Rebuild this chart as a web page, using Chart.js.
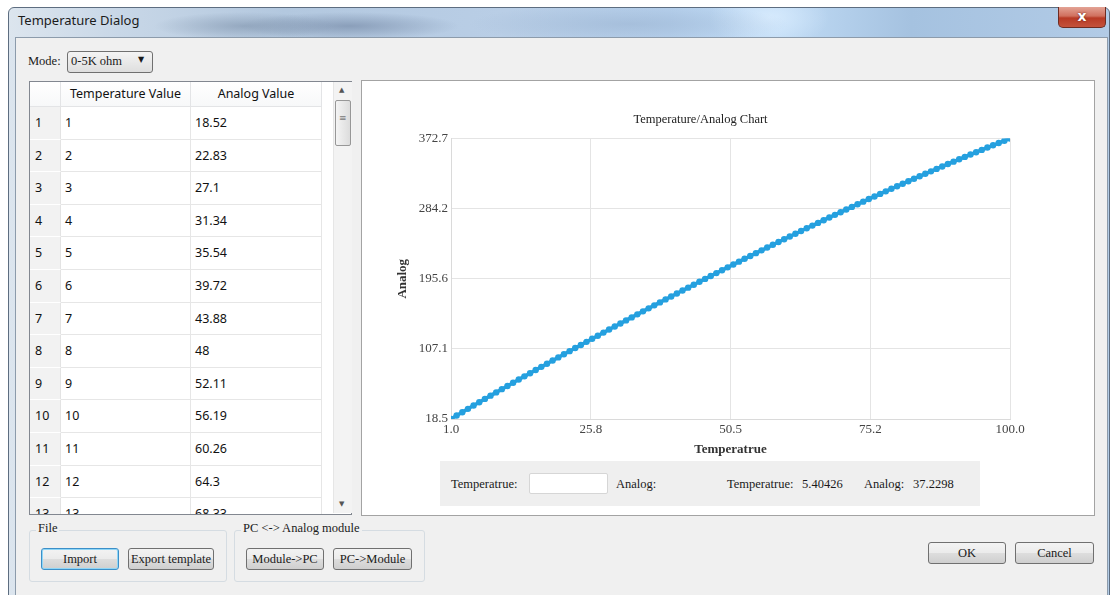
<!DOCTYPE html>
<html>
<head>
<meta charset="utf-8">
<title>Temperature Dialog</title>
<script src="https://cdn.jsdelivr.net/npm/chart.js@4.4.1/dist/chart.umd.min.js"></script>
<style>
html, body { margin: 0; padding: 0; width: 1110px; height: 595px; overflow: hidden; background: #fff; }
body { position: relative; font-family: "Liberation Serif", serif; font-size: 12.5px; color: #1a1a1a; }
.abs { position: absolute; }
#glass {
  left: 8px; top: 7px; width: 1100px; height: 590px; border: 1px solid #5d6d80; border-radius: 6px 6px 0 0;
  background:
    radial-gradient(ellipse 90px 14px at 235px 18px, rgba(120,140,165,0.55), rgba(120,140,165,0) 100%),
    radial-gradient(ellipse 110px 14px at 340px 18px, rgba(110,130,160,0.6), rgba(110,130,160,0) 100%),
    radial-gradient(ellipse 160px 20px at 620px 16px, rgba(150,175,205,0.5), rgba(150,175,205,0) 100%),
    radial-gradient(ellipse 60px 30px at 760px 10px, rgba(220,238,255,0.8), rgba(220,238,255,0) 100%),
    linear-gradient(90deg, #dce5ee 0%, #c8d7e7 10%, #b3c8df 25%, #b9cee6 45%, #b6d0ec 60%, #c0dbf5 70%, #a5c2e0 82%, #b2cbe6 100%);
}
#title { left: 18px; top: 11px; font-family: "Noto Sans", sans-serif; font-size: 13px; color: #1b1b1b; }
#close {
  left: 1058px; top: 7px; width: 46px; height: 20px; border: 1px solid #6e2c22; border-top: none; border-radius: 0 0 5px 5px;
  background: linear-gradient(#e3a395 0%, #d0705e 45%, #b83a25 55%, #c4523c 100%);
  color: #fff; font-family: "DejaVu Sans", sans-serif; font-weight: bold; font-size: 14px; text-align: center; line-height: 19px;
  text-shadow: 0 0 2px #5a1a10;
}
#client { left: 15px; top: 37px; width: 1091px; height: 560px; background: #f0f0f0; border: 1px solid #8c9bab; }
.lbl { white-space: nowrap; }
#combo {
  left: 67px; top: 51px; width: 84px; height: 20px; border: 1px solid #707070; border-radius: 3px;
  background: linear-gradient(#f4f4f4, #dedede);
}
#table { left: 29px; top: 81px; width: 321px; height: 432px; border: 1px solid #828790; background: #fff; overflow: hidden; }
.cell { position: absolute; font-family: "Noto Sans", sans-serif; font-size: 12.5px; color: #111; white-space: nowrap; box-sizing: border-box; }
.hdr { background: linear-gradient(#ffffff, #f7f8f9); border-right: 1px solid #e3e4e6; border-bottom: 1px solid #e3e4e6; text-align: center; line-height: 24px; height: 25px; }
.rh { background: #f2f2f2; border-bottom: 1px solid #ffffff; border-right: 1px solid #e3e3e3; padding-left: 5px; }
.dc { border-right: 1px solid #e6e6e6; border-bottom: 1px solid #e6e6e6; padding-left: 4px; }
#scroll { left: 333px; top: 82px; width: 18px; height: 431px; background: #f3f3f3; border-left: 1px solid #e6e6e6; }
#thumb { left: 335px; top: 100px; width: 14px; height: 44px; border: 1px solid #979797; border-radius: 2px; background: linear-gradient(90deg, #f4f4f4, #dcdcdc); }
#chartBox { left: 361px; top: 80px; width: 732px; height: 434px; border: 1px solid #a3a3a3; background: #fff; }
#chart { left: 362px; top: 81px; }
#info { left: 440px; top: 461px; width: 540px; height: 45px; background: #efefef; }
#input { left: 529px; top: 473px; width: 77px; height: 19px; background: #fff; border: 1px solid #d6d6d6; border-radius: 2px; }
.group { border: 1px solid #d5dce2; border-radius: 3px; }
.gtitle { background: #f0f0f0; padding: 0 2px; }
.btn {
  position: absolute; box-sizing: border-box; border: 1px solid #707070; border-radius: 3px;
  background: linear-gradient(#f3f3f3 0%, #ebebeb 50%, #dddddd 51%, #cfcfcf 100%);
  text-align: center; line-height: 20px; white-space: nowrap; font-size: 12.5px; color: #1a1a1a;
}
.btn.focus { border: 1px solid #3c8fc8; box-shadow: inset 0 0 0 1px #8fd6f7; }
</style>
</head>
<body>
<div id="glass" class="abs"></div>
<div id="title" class="abs lbl">Temperature Dialog</div>
<div id="close" class="abs">x</div>
<div id="client" class="abs"></div>

<div class="abs lbl" style="left:28px;top:54px;">Mode:</div>
<div id="combo" class="abs"></div>
<div class="abs lbl" style="left:71px;top:54px;">0-5K ohm</div>
<div class="abs lbl" style="left:138px;top:55px;font-family:'DejaVu Sans';font-size:8px;">&#9660;</div>

<div id="table" class="abs"></div>
<div id="scroll" class="abs"></div>
<div class="abs lbl" style="left:339px;top:86px;font-family:'DejaVu Sans';font-size:7px;color:#555;">&#9650;</div>
<div class="abs lbl" style="left:339px;top:500px;font-family:'DejaVu Sans';font-size:7px;color:#555;">&#9660;</div>
<div id="thumb" class="abs"></div>
<div class="abs lbl" style="left:339px;top:113px;font-family:'DejaVu Sans';font-size:9px;color:#777;">&#8801;</div>

<div id="chartBox" class="abs"></div>
<canvas id="chart" class="abs" width="732" height="380" style="width:732px;height:380px;"></canvas>
<div id="info" class="abs"></div>
<div class="abs lbl" style="left:451px;top:477px;">Temperatrue:</div>
<div id="input" class="abs"></div>
<div class="abs lbl" style="left:616px;top:477px;">Analog:</div>
<div class="abs lbl" style="left:727px;top:477px;">Temperatrue:</div>
<div class="abs lbl" style="left:802px;top:477px;">5.40426</div>
<div class="abs lbl" style="left:864px;top:477px;">Analog:</div>
<div class="abs lbl" style="left:913px;top:477px;">37.2298</div>

<div class="abs group" style="left:29px;top:530px;width:196px;height:50px;"></div>
<div class="abs lbl gtitle" style="left:36px;top:521px;">File</div>
<div class="btn focus" style="left:41px;top:548px;width:78px;height:22px;">Import</div>
<div class="btn" style="left:128px;top:548px;width:86px;height:22px;">Export template</div>

<div class="abs group" style="left:234px;top:530px;width:189px;height:50px;"></div>
<div class="abs lbl gtitle" style="left:241px;top:521px;">PC &lt;-&gt; Analog module</div>
<div class="btn" style="left:246px;top:548px;width:78px;height:22px;">Module-&gt;PC</div>
<div class="btn" style="left:333px;top:548px;width:79px;height:22px;">PC-&gt;Module</div>

<div class="btn" style="left:928px;top:542px;width:78px;height:22px;">OK</div>
<div class="btn" style="left:1015px;top:542px;width:79px;height:22px;">Cancel</div>

<script>
// Temperature values (table column 1 / x axis)
var temps = [
  1, 2, 3, 4, 5, 6, 7, 8, 9, 10, 11, 12, 13, 14, 15, 16, 17, 18, 19, 20,
  21, 22, 23, 24, 25, 26, 27, 28, 29, 30, 31, 32, 33, 34, 35, 36, 37, 38, 39, 40,
  41, 42, 43, 44, 45, 46, 47, 48, 49, 50, 51, 52, 53, 54, 55, 56, 57, 58, 59, 60,
  61, 62, 63, 64, 65, 66, 67, 68, 69, 70, 71, 72, 73, 74, 75, 76, 77, 78, 79, 80,
  81, 82, 83, 84, 85, 86, 87, 88, 89, 90, 91, 92, 93, 94, 95, 96, 97, 98, 99, 100
];

// Analog values (table column 2 / y axis)
var analog = [
  18.52, 22.83, 27.1, 31.34, 35.54, 39.72, 43.88, 48, 52.11, 56.19, 60.26, 64.3, 68.33,
  72.35, 76.36, 80.36, 84.35, 88.33, 92.3, 96.26, 100.21, 104.15, 108.08, 112, 115.91,
  119.81, 123.7, 127.58, 131.45, 135.31, 139.16, 142.99, 146.81, 150.62, 154.42, 158.21, 161.99,
  165.75, 169.5, 173.24, 176.97, 180.69, 184.39, 188.08, 191.76, 195.43, 199.09, 202.73, 206.36, 209.98,
  213.59, 217.19, 220.77, 224.34, 227.9, 231.44, 234.97, 238.49, 241.99, 245.48, 248.96, 252.42,
  255.87, 259.31, 262.73, 266.14, 269.54, 272.92, 276.29, 279.65, 282.99, 286.32, 289.64, 292.94, 296.23,
  299.5, 302.75, 305.99, 309.21, 312.41, 315.59, 318.76, 321.91, 325.04, 328.15, 331.25, 334.33,
  337.39, 340.43, 343.46, 346.47, 349.46, 352.43, 355.39, 358.33, 361.25, 364.15, 367.01, 369.86, 372.7
];

// axis ticks
var xTicks = [1, 25.75, 50.5, 75.25, 100];
var xTickLabels = ['1.0', '25.8', '50.5', '75.2', '100.0'];
var yTicks = [18.5, 107.05, 195.6, 284.15, 372.7];
var yTickLabels = ['18.5', '107.1', '195.6', '284.2', '372.7'];

// table rows (only the first 13 are visible)
var table = document.getElementById('table');
var html = '';
html += '<div class="cell hdr" style="left:0;top:0;width:31px;"></div>';
html += '<div class="cell hdr" style="left:31px;top:0;width:130px;">Temperature Value</div>';
html += '<div class="cell hdr" style="left:161px;top:0;width:131px;">Analog Value</div>';
for (var i = 0; i < 14; i++) {
    var rowTop = 25 + i * 32.6;
    html += '<div class="cell rh" style="left:0;top:' + rowTop + 'px;width:31px;height:32.6px;line-height:32px;">' + (i + 1) + '</div>';
    html += '<div class="cell dc" style="left:31px;top:' + rowTop + 'px;width:130px;height:32.6px;line-height:32px;">' + temps[i] + '</div>';
    html += '<div class="cell dc" style="left:161px;top:' + rowTop + 'px;width:131px;height:32.6px;line-height:32px;">' + analog[i] + '</div>';
}
table.innerHTML = html;

var serif = 'Liberation Serif';
var lineColor = '#25a0df';

var ctx = document.getElementById('chart').getContext('2d');
var chart = new Chart(ctx, {
    type: 'line',
    data: {
        datasets: [{
            label: 'Analog',
            data: temps.map(function (t, i) { return { x: t, y: analog[i] }; }),
            borderColor: lineColor,
            backgroundColor: lineColor,
            borderWidth: 3.5,
            pointRadius: 3.2,
            pointBorderWidth: 0,
            pointBackgroundColor: lineColor,
            tension: 0
        }]
    },
    options: {
        responsive: false,
        animation: false,
        layout: { padding: { left: 29, right: 84, top: 0, bottom: 0 } },
        plugins: {
            legend: { display: false },
            tooltip: { enabled: false },
            title: {
                display: true,
                text: 'Temperature/Analog Chart',
                color: '#222',
                font: { family: serif, size: 12.5, weight: 'normal' },
                padding: { top: 31, bottom: 11.5 }
            }
        },
        scales: {
            x: {
                type: 'linear',
                min: 1,
                max: 100,
                afterBuildTicks: function (s) { s.ticks = xTicks.map(function (v) { return { value: v }; }); },
                afterFit: function (s) { s.height = 42; },
                ticks: {
                    callback: function (v, i) { return xTickLabels[i]; },
                    color: '#444',
                    font: { family: serif, size: 13 },
                    padding: 3,
                    maxRotation: 0,
                    autoSkip: false
                },
                grid: { color: '#e4e4e4', drawTicks: false },
                border: { color: '#dadada' },
                title: {
                    display: true,
                    text: 'Temperatrue',
                    color: '#333',
                    font: { family: serif, size: 13, weight: 'bold' },
                    padding: { top: 4, bottom: 4 }
                }
            },
            y: {
                min: 18.5,
                max: 372.7,
                afterBuildTicks: function (s) { s.ticks = yTicks.map(function (v) { return { value: v }; }); },
                afterFit: function (s) { s.width = 60; },
                ticks: {
                    callback: function (v, i) { return yTickLabels[i]; },
                    color: '#444',
                    font: { family: serif, size: 13 },
                    padding: 3,
                    autoSkip: false
                },
                grid: { color: '#e4e4e4', drawTicks: false },
                border: { color: '#dadada' },
                title: {
                    display: true,
                    text: 'Analog',
                    color: '#333',
                    font: { family: serif, size: 13, weight: 'bold' },
                    padding: { top: 4, bottom: 4 }
                }
            }
        }
    }
});
</script>
</body>
</html>
